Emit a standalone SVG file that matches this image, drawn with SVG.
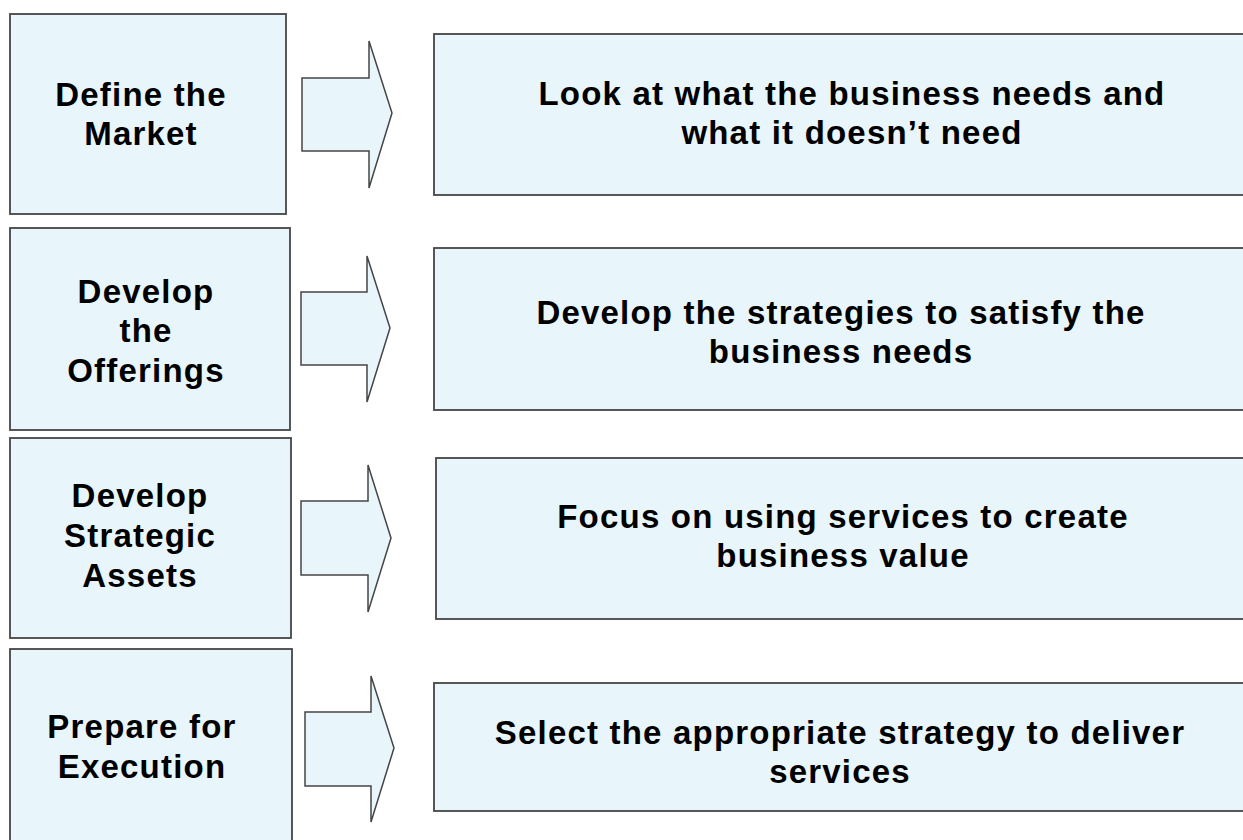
<svg xmlns="http://www.w3.org/2000/svg" width="1243" height="840" viewBox="0 0 1243 840">
<style>
.box{fill:#E8F5FB;stroke:#454545;stroke-width:1.8}
.arr{fill:#E8F5FB;stroke:#454545;stroke-width:1.5;stroke-linejoin:miter}
text{font-family:"Liberation Sans",Arial,sans-serif;font-weight:bold;font-size:33px;fill:#000;text-anchor:middle;letter-spacing:1.2px}
</style>
<rect width="1243" height="840" fill="#ffffff"/>
<g id="left1"><rect class="box" x="10" y="14" width="276" height="200"/><text x="141" y="106">Define the</text><text x="141" y="145">Market</text></g>
<g id="left2"><rect class="box" x="10" y="228" width="280" height="202"/><text x="146" y="303">Develop</text><text x="146" y="342">the</text><text x="146" y="382">Offerings</text></g>
<g id="left3"><rect class="box" x="10" y="438" width="281" height="200"/><text x="140" y="507">Develop</text><text x="140" y="547">Strategic</text><text x="140" y="587">Assets</text></g>
<g id="left4"><rect class="box" x="10" y="649" width="282" height="210"/><text x="142" y="738">Prepare for</text><text x="142" y="778">Execution</text></g>
<g id="right1"><rect class="box" x="434" y="34" width="830" height="161"/><text x="852" y="105">Look at what the business needs and</text><text x="852" y="144">what it doesn’t need</text></g>
<g id="right2"><rect class="box" x="434" y="248" width="830" height="162"/><text x="841" y="324">Develop the strategies to satisfy the</text><text x="841" y="363">business needs</text></g>
<g id="right3"><rect class="box" x="436" y="458" width="830" height="161"/><text x="843" y="528">Focus on using services to create</text><text x="843" y="567">business value</text></g>
<g id="right4"><rect class="box" x="434" y="683" width="830" height="128"/><text x="840" y="744">Select the appropriate strategy to deliver</text><text x="840" y="783">services</text></g>
<g id="connectors">
<polygon class="arr" points="302,78 369,78 369,41 392,113 369,188 369,151 302,151"/>
<polygon class="arr" points="301,292 367,292 367,256 390,328 367,402 367,365 301,365"/>
<polygon class="arr" points="301,501 368,501 368,465 391,538 368,612 368,575 301,575"/>
<polygon class="arr" points="305,712 371,712 371,676 394,748 371,822 371,786 305,786"/>
</g>
</svg>
